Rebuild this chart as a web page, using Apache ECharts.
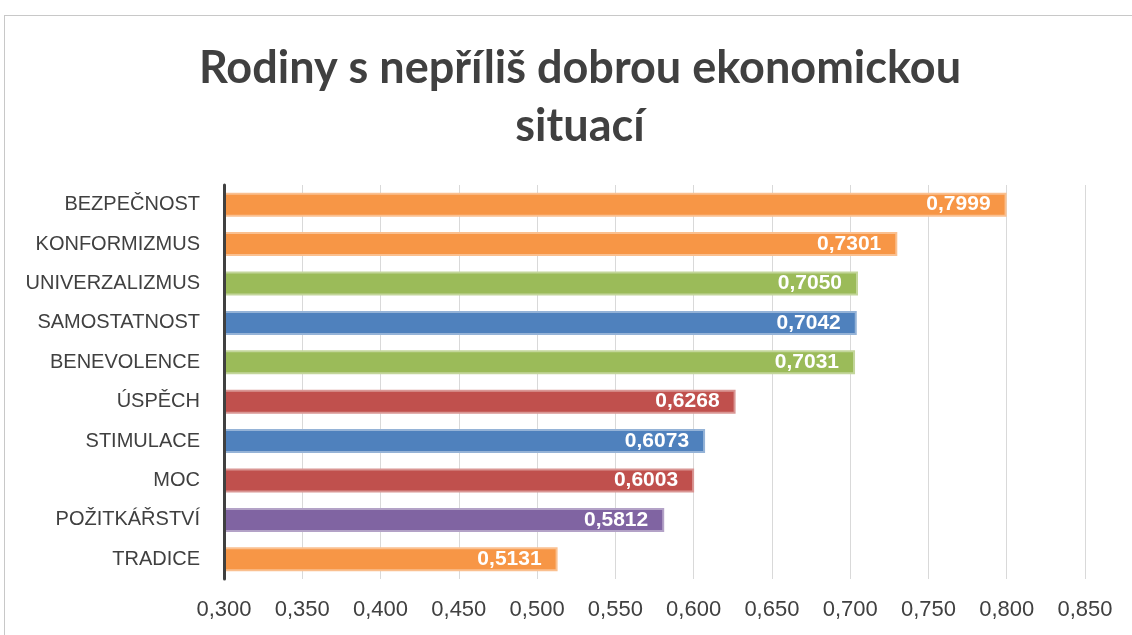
<!DOCTYPE html>
<html>
    <head>
        <meta charset="utf-8">
        <title>Rodiny s nepříliš dobrou ekonomickou situací</title>
        <script src="https://cdn.jsdelivr.net/npm/echarts@6/dist/echarts.min.js"></script>
        <style>
            html, body { margin: 0; padding: 0; background: #fff; }
            #frame { position: absolute; left: 4px; top: 15px; width: 1200px; height: 700px; border: 1px solid #c8c8c8; }
            #chart1 { position: absolute; left: 0; top: 0; width: 1132px; height: 635px; }
        </style>
    </head>
    <body>
        <div id="frame"></div>
        <div id="chart1"></div>
        <script type="text/javascript">
            // data
            var categories = ['BEZPEČNOST', 'KONFORMIZMUS', 'UNIVERZALIZMUS', 'SAMOSTATNOST', 'BENEVOLENCE',
                              'ÚSPĚCH', 'STIMULACE', 'MOC', 'POŽITKÁŘSTVÍ', 'TRADICE'];
            var values = [0.7999, 0.7301, 0.7050, 0.7042, 0.7031, 0.6268, 0.6073, 0.6003, 0.5812, 0.5131];
            var axisMin = 0.300, axisMax = 0.850, axisStep = 0.050;

            // barvy
            var barColors = ['#F79646', '#F79646', '#9BBB59', '#4F81BD', '#9BBB59',
                             '#C0504D', '#4F81BD', '#C0504D', '#8064A2', '#F79646'];
            var edgeColors = ['#FAC090', '#FAC090', '#C3D69B', '#95B3D7', '#C3D69B',
                              '#D99694', '#95B3D7', '#D99694', '#B3A2C7', '#FAC090'];

            var myChart1 = echarts.init(document.getElementById('chart1'));
            myChart1.setOption({
                animation: false,
                title: {
                    text: 'Rodiny s nepříliš dobrou ekonomickou\nsituací',
                    left: 575,
                    textAlign: 'center',
                    top: 34,
                    textStyle: {
                        fontFamily: 'Lato',
                        fontWeight: 'bold',
                        fontSize: 45,
                        lineHeight: 58,
                        color: '#404040'
                    }
                },
                grid: { left: 224, right: 47, top: 185, bottom: 56 },
                xAxis: {
                    type: 'value',
                    min: axisMin,
                    max: axisMax,
                    interval: axisStep,
                    axisLine: { show: false },
                    axisTick: { show: false },
                    splitLine: { lineStyle: { color: '#d9d9d9', width: 1 } },
                    axisLabel: {
                        margin: 20,
                        fontFamily: 'Liberation Sans',
                        fontSize: 22,
                        color: '#404040',
                        formatter: function (v) { return v.toFixed(3).replace('.', ','); }
                    }
                },
                yAxis: {
                    type: 'category',
                    inverse: true,
                    z: 5,
                    data: categories,
                    axisLine: { lineStyle: { color: '#404040', width: 3 } },
                    axisTick: { show: false },
                    axisLabel: {
                        margin: 24,
                        fontFamily: 'Liberation Sans',
                        fontSize: 20,
                        color: '#404040'
                    }
                },
                series: [{
                    type: 'bar',
                    barWidth: 24,
                    data: values.map(function (v, i) {
                        return {
                            value: v,
                            itemStyle: { color: barColors[i], borderColor: edgeColors[i], borderWidth: 2 }
                        };
                    }),
                    label: {
                        show: true,
                        position: 'insideRight',
                        distance: 16,
                        color: '#fff',
                        fontFamily: 'Liberation Sans',
                        fontWeight: 'bold',
                        fontSize: 21,
                        formatter: function (p) { return p.value.toFixed(4).replace('.', ','); }
                    }
                }]
            });
        </script>
    </body>
</html>
